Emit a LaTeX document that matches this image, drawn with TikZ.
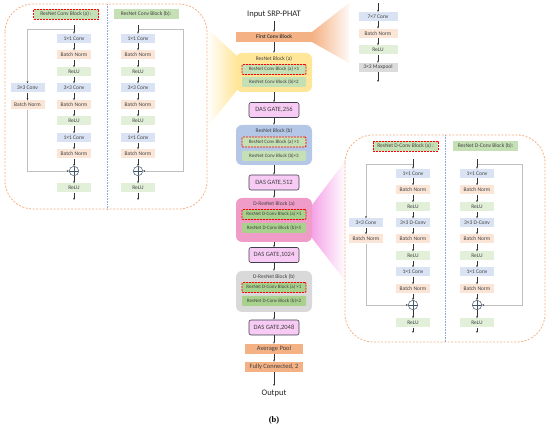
\documentclass[tikz,border=0pt]{standalone}
\usepackage{fontspec}
\setmainfont{Carlito}
\newfontfamily\capfont{Liberation Serif}
\usetikzlibrary{arrows.meta}

\definecolor{convblue}{HTML}{DAE3F3}
\definecolor{bnpeach}{HTML}{FBE5D6}
\definecolor{relugreen}{HTML}{E2F0D9}
\definecolor{poolgray}{HTML}{DBDBDB}
\definecolor{headgreen}{HTML}{C5E0B4}
\definecolor{dgreen}{HTML}{A9D18E}
\definecolor{stageorange}{HTML}{F4B183}
\definecolor{blkyellow}{HTML}{FFE699}
\definecolor{blkblue}{HTML}{B4C7E7}
\definecolor{blkpink}{HTML}{F09CC8}
\definecolor{blkgray}{HTML}{D9D9D9}
\definecolor{gatepink}{HTML}{F8CBF4}
\definecolor{gatedark}{HTML}{3F3F4F}
\definecolor{panelorange}{HTML}{F4B183}
\definecolor{divblue}{HTML}{8FAADC}
\definecolor{skipgray}{HTML}{BFBFBF}
\definecolor{plusblue}{HTML}{44546A}
\definecolor{txtgray}{HTML}{404040}
\definecolor{funnelpink}{HTML}{F5A3E8}

\begin{document}
\begin{tikzpicture}[x=1pt, y=-1pt,
    box/.style={minimum width=34pt, minimum height=9pt, inner sep=0pt, text=txtgray, font=\fontsize{5.5}{6}\selectfont},
    conv/.style={box, fill=convblue},
    bn/.style={box, fill=bnpeach},
    relu/.style={box, fill=relugreen},
    pool/.style={box, fill=poolgray},
    head/.style={box, minimum width=65pt, minimum height=10pt, fill=headgreen},
    redline/.style={draw=red, line width=0.9pt, dash pattern=on 2pt off 1pt},
    plus/.style={circle, draw=plusblue, line width=0.5pt, minimum size=9.5pt, inner sep=0pt,
        path picture={\draw[plusblue, line width=0.5pt] (path picture bounding box.north) -- (path picture bounding box.south)
            (path picture bounding box.west) -- (path picture bounding box.east);}},
    arr/.style={-{Stealth[length=2.2pt, width=1.8pt]}, line width=0.4pt, black!80},
    skip/.style={-{Stealth[length=2.2pt, width=1.8pt, black!80]}, draw=skipgray, line width=0.8pt},
    panel/.style={draw=panelorange, dash pattern=on 2pt off 1.5pt, line width=0.8pt, rounded corners=28pt},
    block/.style={rounded corners=6pt, minimum width=76pt, inner sep=0pt},
    lbl/.style={text=txtgray, font=\fontsize{5.5}{6}\selectfont},
    sub/.style={minimum width=64pt, minimum height=10pt, inner sep=0pt, rounded corners=1pt, text=txtgray, font=\fontsize{5}{6}\selectfont},
    gate/.style={draw=gatedark, fill=gatepink, rounded corners=2pt, minimum width=50pt, minimum height=15pt, line width=0.6pt, text=txtgray, font=\fontsize{6.5}{7}\selectfont},
    stage/.style={fill=stageorange, minimum width=58pt, minimum height=10pt, inner sep=0pt, text=txtgray, font=\fontsize{6.5}{7}\selectfont}
]
\useasboundingbox (0,0) rectangle (550,430);

% funnels behind everything
\shade[left color=stageorange, right color=stageorange!8] (312,32) -- (349,3) -- (349,63) -- (312,42) -- cycle;
\shade[left color=white, right color=blkyellow] (207,28) -- (237,56) -- (237,90) -- (207,128) -- cycle;
\shade[left color=funnelpink, right color=white] (312,205) -- (346,160) -- (346,282) -- (312,238) -- cycle;

% dashed panels
\draw[panel] (5,4) rectangle (207,209);
\draw[divblue, densely dotted, line width=0.6pt] (107,4) -- (107,209);
\draw[panel] (345,135) rectangle (545,342);
\draw[divblue, densely dotted, line width=0.6pt] (445,135) -- (445,342);

% main column
\node[font=\fontsize{8.5}{9}\selectfont, text=black!85] (in) at (274,14) {Input SRP-PHAT};
\node[stage, minimum width=76pt, font=\bfseries\fontsize{5.5}{6}\selectfont] (first) at (274,37) {First Conv Block};

\node[block, fill=blkyellow, minimum height=39pt] (blk-a) at (274,72.5) {};
\node[lbl] (blk-a-lbl) at (274,59) {ResNet Block (a)};
\node[sub, fill=headgreen, redline] (blk-a-1) at (274,69.5) {ResNet Conv Block (a) ×1};
\node[sub, fill=headgreen] (blk-a-2) at (274,82) {ResNet Conv Block (b)×2};
\node[gate] (g256) at (274,110) {DAS GATE,256};

\node[block, fill=blkblue, minimum height=40pt] (blk-b) at (274,145) {};
\node[lbl] (blk-b-lbl) at (274,131) {ResNet Block (b)};
\node[sub, fill=headgreen, redline] (blk-b-1) at (274,142) {ResNet Conv Block (a) ×1};
\node[sub, fill=headgreen] (blk-b-2) at (274,156) {ResNet Conv Block (b)×3};
\node[gate] (g512) at (274,182.5) {DAS GATE,512};

\node[block, fill=blkpink, minimum height=44pt] (blk-c) at (274,220) {};
\node[lbl] (blk-c-lbl) at (274,203.5) {D-ResNet Block (a)};
\node[sub, fill=dgreen, redline] (blk-c-1) at (274,214.5) {ResNet D-Conv Block (a) ×1};
\node[sub, fill=dgreen] (blk-c-2) at (274,228) {ResNet D-Conv Block (b)×5};
\node[gate] (g1024) at (274,255) {DAS GATE,1024};

\node[block, fill=blkgray, minimum height=41pt] (blk-d) at (274,291.5) {};
\node[lbl] (blk-d-lbl) at (274,277) {D-ResNet Block (b)};
\node[sub, fill=dgreen, redline] (blk-d-1) at (274,287.5) {ResNet D-Conv Block (a) ×1};
\node[sub, fill=dgreen] (blk-d-2) at (274,301) {ResNet D-Conv Block (b)×2};
\node[gate] (g2048) at (274,327.5) {DAS GATE,2048};

\node[stage] (avg) at (274,349) {Average Pool};
\node[stage] (fc2) at (274,367) {Fully Connected, 2};
\node[font=\fontsize{8.5}{9}\selectfont, text=black!85] (out) at (274,393) {Output};
\node[font=\capfont\bfseries\fontsize{8.5}{9}\selectfont] (cap) at (274,420) {(b)};

\foreach \a/\b in {in/first, first/blk-a, blk-a/g256, g256/blk-b, blk-b/g512, g512/blk-c,
    blk-c/g1024, g1024/blk-d, blk-d/g2048, g2048/avg, avg/fc2, fc2/out}
    \draw[arr] (\a) -- (\b);

% first conv block detail
\coordinate (fc-top) at (378,3);
\node[conv, minimum width=39pt] (fc-c) at (378,16.7) {7×7 Conv};
\node[bn, minimum width=39pt] (fc-b) at (378,33.3) {Batch Norm};
\node[relu, minimum width=39pt] (fc-r) at (378,50) {ReLU};
\node[pool, minimum width=39pt] (fc-p) at (378,67.5) {3×3 Maxpool};
\coordinate (fc-end) at (378,82);
\foreach \a/\b in {top/c, c/b, b/r, r/p, p/end}
    \draw[arr] (fc-\a) -- (fc-\b);

% ResNet Conv Block (a)
\node[head, redline] (ra-head) at (66,14) {ResNet Conv Block (a) :};
\coordinate (ra-top) at (74,25);
\coordinate (ra-split) at (74,29);
\node[conv] (ra-c1) at (74,38.5) {1×1 Conv};
\node[bn] (ra-b1) at (74,55) {Batch Norm};
\node[relu] (ra-r1) at (74,72) {ReLU};
\node[conv] (ra-c2) at (74,88) {3×3 Conv};
\node[bn] (ra-b2) at (74,105) {Batch Norm};
\node[relu] (ra-r2) at (74,121) {ReLU};
\node[conv] (ra-c3) at (74,138) {1×1 Conv};
\node[bn] (ra-b3) at (74,154) {Batch Norm};
\node[plus] (ra-add) at (74,171) {};
\node[relu] (ra-r3) at (74,188) {ReLU};
\coordinate (ra-end) at (74,200);
\node[conv] (ra-s1) at (27.5,88) {3×3 Conv};
\node[bn] (ra-s2) at (27.5,105) {Batch Norm};

% ResNet Conv Block (b)
\node[head] (rb-head) at (146,14) {ResNet Conv Block (b):};
\coordinate (rb-top) at (138,25);
\coordinate (rb-split) at (138,29);
\coordinate (rb-corner) at (183,29);
\node[conv] (rb-c1) at (138,38.5) {1×1 Conv};
\node[bn] (rb-b1) at (138,55) {Batch Norm};
\node[relu] (rb-r1) at (138,72) {ReLU};
\node[conv] (rb-c2) at (138,88) {3×3 Conv};
\node[bn] (rb-b2) at (138,105) {Batch Norm};
\node[relu] (rb-r2) at (138,121) {ReLU};
\node[conv] (rb-c3) at (138,138) {1×1 Conv};
\node[bn] (rb-b3) at (138,154) {Batch Norm};
\node[plus] (rb-add) at (138,171) {};
\node[relu] (rb-r3) at (138,188) {ReLU};
\coordinate (rb-end) at (138,200);

% ResNet D-Conv Block (a)
\node[head, redline] (da-head) at (405.5,146) {ResNet D-Conv Block (a) :};
\coordinate (da-top) at (413,159);
\coordinate (da-split) at (413,164);
\node[conv] (da-c1) at (413,173.5) {1×1 Conv};
\node[bn] (da-b1) at (413,190) {Batch Norm};
\node[relu] (da-r1) at (413,207) {ReLU};
\node[conv] (da-c2) at (413,223) {3×3 D-Conv};
\node[bn] (da-b2) at (413,239) {Batch Norm};
\node[relu] (da-r2) at (413,256) {ReLU};
\node[conv] (da-c3) at (413,272) {1×1 Conv};
\node[bn] (da-b3) at (413,289) {Batch Norm};
\node[plus] (da-add) at (413,305) {};
\node[relu] (da-r3) at (413,323) {ReLU};
\coordinate (da-end) at (413,333);
\node[conv] (da-s1) at (366,223) {3×3 Conv};
\node[bn] (da-s2) at (366,239) {Batch Norm};

% ResNet D-Conv Block (b)
\node[head] (db-head) at (485.5,146) {ResNet D-Conv Block (b):};
\coordinate (db-top) at (477,159);
\coordinate (db-split) at (477,164);
\coordinate (db-corner) at (522,164);
\node[conv] (db-c1) at (477,173.5) {1×1 Conv};
\node[bn] (db-b1) at (477,190) {Batch Norm};
\node[relu] (db-r1) at (477,207) {ReLU};
\node[conv] (db-c2) at (477,223) {3×3 D-Conv};
\node[bn] (db-b2) at (477,239) {Batch Norm};
\node[relu] (db-r2) at (477,256) {ReLU};
\node[conv] (db-c3) at (477,272) {1×1 Conv};
\node[bn] (db-b3) at (477,289) {Batch Norm};
\node[plus] (db-add) at (477,305) {};
\node[relu] (db-r3) at (477,323) {ReLU};
\coordinate (db-end) at (477,333);

% shortcuts
\draw[skip] (ra-split) -| (ra-s1);
\draw[skip] (ra-s2) |- (ra-add);
\draw[skip] (rb-split) -- (rb-corner) |- (rb-add);
\draw[skip] (da-split) -| (da-s1);
\draw[skip] (da-s2) |- (da-add);
\draw[skip] (db-split) -- (db-corner) |- (db-add);
\draw[arr] (ra-s1) -- (ra-s2);
\draw[arr] (da-s1) -- (da-s2);

% main chains
\foreach \p in {ra, rb, da, db}
    \foreach \a/\b in {top/c1, c1/b1, b1/r1, r1/c2, c2/b2, b2/r2, r2/c3, c3/b3, b3/add, add/r3, r3/end}
        \draw[arr] (\p-\a) -- (\p-\b);
\end{tikzpicture}
\end{document}
